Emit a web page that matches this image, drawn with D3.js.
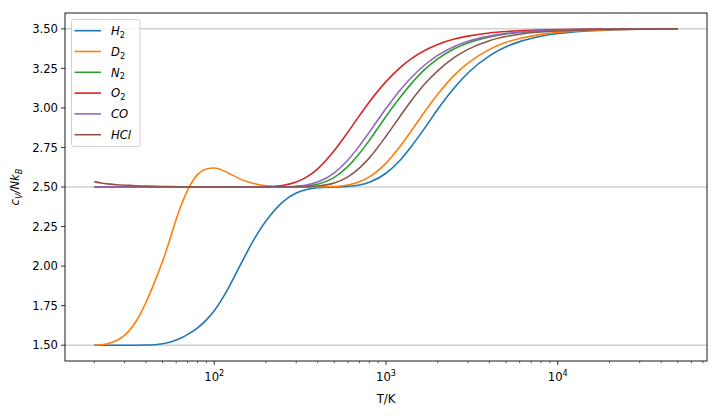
<!DOCTYPE html>
<html><head><meta charset="utf-8">
<script src="https://cdn.jsdelivr.net/npm/d3@7"></script>
<style>body{margin:0;background:#fff} svg{display:block} text{font-family:"DejaVu Sans",sans-serif;fill:#000}</style>
</head><body><svg id="c" width="720" height="416"></svg>
<script>
// ---- data ----
const temps = [20,22,25,27,30,32,35,40,45,50,55,60,65,70,80,90,100,120,140,160,180,200,250,300,350,400,500,600,700,800,1000,1200,1400,1700,2000,2500,3000,4000,5000,6000,8000,10000,15000,20000,30000,50000];
const cvH2  = [1.500,1.500,1.500,1.500,1.500,1.500,1.500,1.501,1.503,1.509,1.519,1.533,1.549,1.568,1.610,1.660,1.718,1.855,1.995,2.115,2.212,2.285,2.405,2.462,2.486,2.495,2.500,2.504,2.513,2.530,2.587,2.666,2.755,2.880,2.991,3.127,3.221,3.329,3.386,3.419,3.453,3.470,3.487,3.492,3.497,3.499];
const cvD2  = [1.500,1.503,1.516,1.530,1.562,1.592,1.650,1.770,1.900,2.030,2.165,2.295,2.400,2.480,2.580,2.614,2.620,2.590,2.553,2.530,2.516,2.508,2.502,2.500,2.500,2.500,2.503,2.513,2.533,2.564,2.651,2.753,2.853,2.984,3.086,3.207,3.283,3.370,3.415,3.439,3.465,3.478,3.490,3.494,3.498,3.499];
const cvN2  = [2.500,2.500,2.500,2.500,2.500,2.500,2.500,2.500,2.500,2.500,2.500,2.500,2.500,2.500,2.500,2.500,2.500,2.500,2.500,2.500,2.500,2.500,2.500,2.503,2.508,2.518,2.561,2.630,2.712,2.795,2.946,3.062,3.152,3.248,3.310,3.374,3.410,3.448,3.467,3.477,3.487,3.492,3.496,3.498,3.499,3.500];
const cvO2  = [2.500,2.500,2.500,2.500,2.500,2.500,2.500,2.500,2.500,2.500,2.500,2.500,2.500,2.500,2.500,2.500,2.500,2.500,2.500,2.500,2.500,2.502,2.510,2.531,2.567,2.615,2.730,2.847,2.951,3.038,3.166,3.252,3.310,3.366,3.401,3.435,3.454,3.474,3.483,3.488,3.493,3.496,3.498,3.499,3.500,3.500];
const cvCO  = [2.500,2.500,2.500,2.500,2.500,2.500,2.500,2.500,2.500,2.500,2.500,2.500,2.500,2.500,2.500,2.500,2.500,2.500,2.500,2.500,2.500,2.500,2.501,2.505,2.514,2.531,2.590,2.671,2.760,2.847,2.996,3.109,3.191,3.276,3.332,3.388,3.421,3.454,3.471,3.479,3.488,3.493,3.497,3.498,3.499,3.500];
const cvHCl = [2.534,2.525,2.518,2.514,2.511,2.510,2.508,2.506,2.504,2.503,2.503,2.502,2.502,2.501,2.501,2.500,2.500,2.500,2.500,2.500,2.500,2.500,2.500,2.500,2.502,2.506,2.525,2.564,2.619,2.684,2.821,2.943,3.044,3.157,3.234,3.319,3.370,3.425,3.451,3.466,3.480,3.487,3.494,3.497,3.499,3.500];
const seriesNames = ["H","D","N","O","CO","HCl"];
const seriesSubs  = ["2","2","2","2","",""];
const seriesColors = ["#1f77b4","#ff7f0e","#2ca02c","#d62728","#9467bd","#8c564b"];
const seriesValues = [cvH2,cvD2,cvN2,cvO2,cvCO,cvHCl];
const yTicks = [1.50,1.75,2.00,2.25,2.50,2.75,3.00,3.25,3.50];
const xMajorTicks = [100,1000,10000];
const xMajorExp = ["2","3","4"];
const refLevels = [1.5,2.5,3.5];

// ---- layout ----
const L=65, R=707, T=13, B=361;
const svg = d3.select("#c");
const x = d3.scaleLog().domain([13.52,73950]).range([L,R]);
const y = d3.scaleLinear().domain([1.4,3.6]).range([B,T]);

// reference lines
svg.append("g").selectAll("line").data(refLevels).join("line")
  .attr("x1",L).attr("x2",R).attr("y1",d=>y(d)).attr("y2",d=>y(d))
  .attr("stroke","#d0d0d0").attr("stroke-width",1.6);

// curves
const line = d3.line().x(d=>x(d[0])).y(d=>y(d[1])).curve(d3.curveMonotoneX);
seriesValues.forEach((vals,i)=>{
  svg.append("path").datum(temps.map((t,j)=>[t,vals[j]]))
    .attr("d",line).attr("fill","none").attr("stroke",seriesColors[i])
    .attr("stroke-width",1.6).attr("stroke-linejoin","round");
});

// frame
svg.append("rect").attr("x",L).attr("y",T).attr("width",R-L).attr("height",B-T)
  .attr("fill","none").attr("stroke","#000").attr("stroke-width",0.9);

// y axis
const yAxis = svg.append("g");
yTicks.forEach(v=>{
  yAxis.append("line").attr("x1",L-4).attr("x2",L).attr("y1",y(v)).attr("y2",y(v)).attr("stroke","#000").attr("stroke-width",0.8);
  yAxis.append("text").attr("x",L-7).attr("y",y(v)+4.2).attr("text-anchor","end")
    .style("font-size","11.6px").text(v.toFixed(2));
});

// x axis ticks
const minor = [];
[10,100,1000,10000].forEach(dec=>{ for(let k=2;k<=9;k++){ const t=k*dec; if(t>=x.domain()[0] && t<=x.domain()[1]) minor.push(t);} });
svg.append("g").selectAll("line").data(minor).join("line")
  .attr("x1",d=>x(d)).attr("x2",d=>x(d)).attr("y1",B).attr("y2",B+2.3)
  .attr("stroke","#000").attr("stroke-width",0.6);
xMajorTicks.forEach((t,i)=>{
  svg.append("line").attr("x1",x(t)).attr("x2",x(t)).attr("y1",B).attr("y2",B+4)
    .attr("stroke","#000").attr("stroke-width",0.8);
  const tx = svg.append("text").attr("x",x(t)).attr("y",B+20).attr("text-anchor","middle").style("font-size","11.6px");
  tx.append("tspan").text("10");
  tx.append("tspan").attr("dy",-5).style("font-size","8.2px").text(xMajorExp[i]);
});

// axis labels
svg.append("text").attr("x",(L+R)/2).attr("y",403).attr("text-anchor","middle").style("font-size","11.6px").text("T/K");
const yl = svg.append("text").attr("transform","translate(19,"+((T+B)/2)+") rotate(-90)").attr("text-anchor","middle").style("font-size","11.6px");
yl.append("tspan").style("font-style","italic").text("c");
yl.append("tspan").attr("dy",2.5).style("font-style","italic").style("font-size","8.2px").text("V");
yl.append("tspan").attr("dy",-2.5).style("font-style","italic").text("/Nk");
yl.append("tspan").attr("dy",2.5).style("font-style","italic").style("font-size","8.2px").text("B");

// legend
const lg = svg.append("g");
lg.append("rect").attr("x",71.5).attr("y",19.5).attr("width",68.5).attr("height",127).attr("rx",2.5)
  .attr("fill","#fff").attr("fill-opacity",0.8).attr("stroke","#cccccc").attr("stroke-width",0.9);
seriesNames.forEach((n,i)=>{
  const cy = 30.7 + i*20.8;
  lg.append("line").attr("x1",74.5).attr("x2",101).attr("y1",cy).attr("y2",cy)
    .attr("stroke",seriesColors[i]).attr("stroke-width",1.6);
  const t = lg.append("text").attr("x",111).attr("y",cy+4.2).style("font-size","11.6px");
  t.append("tspan").style("font-style","italic").text(n);
  if(seriesSubs[i]) t.append("tspan").attr("dy",2.8).style("font-size","8.2px").text(seriesSubs[i]);
});
</script></body></html>
